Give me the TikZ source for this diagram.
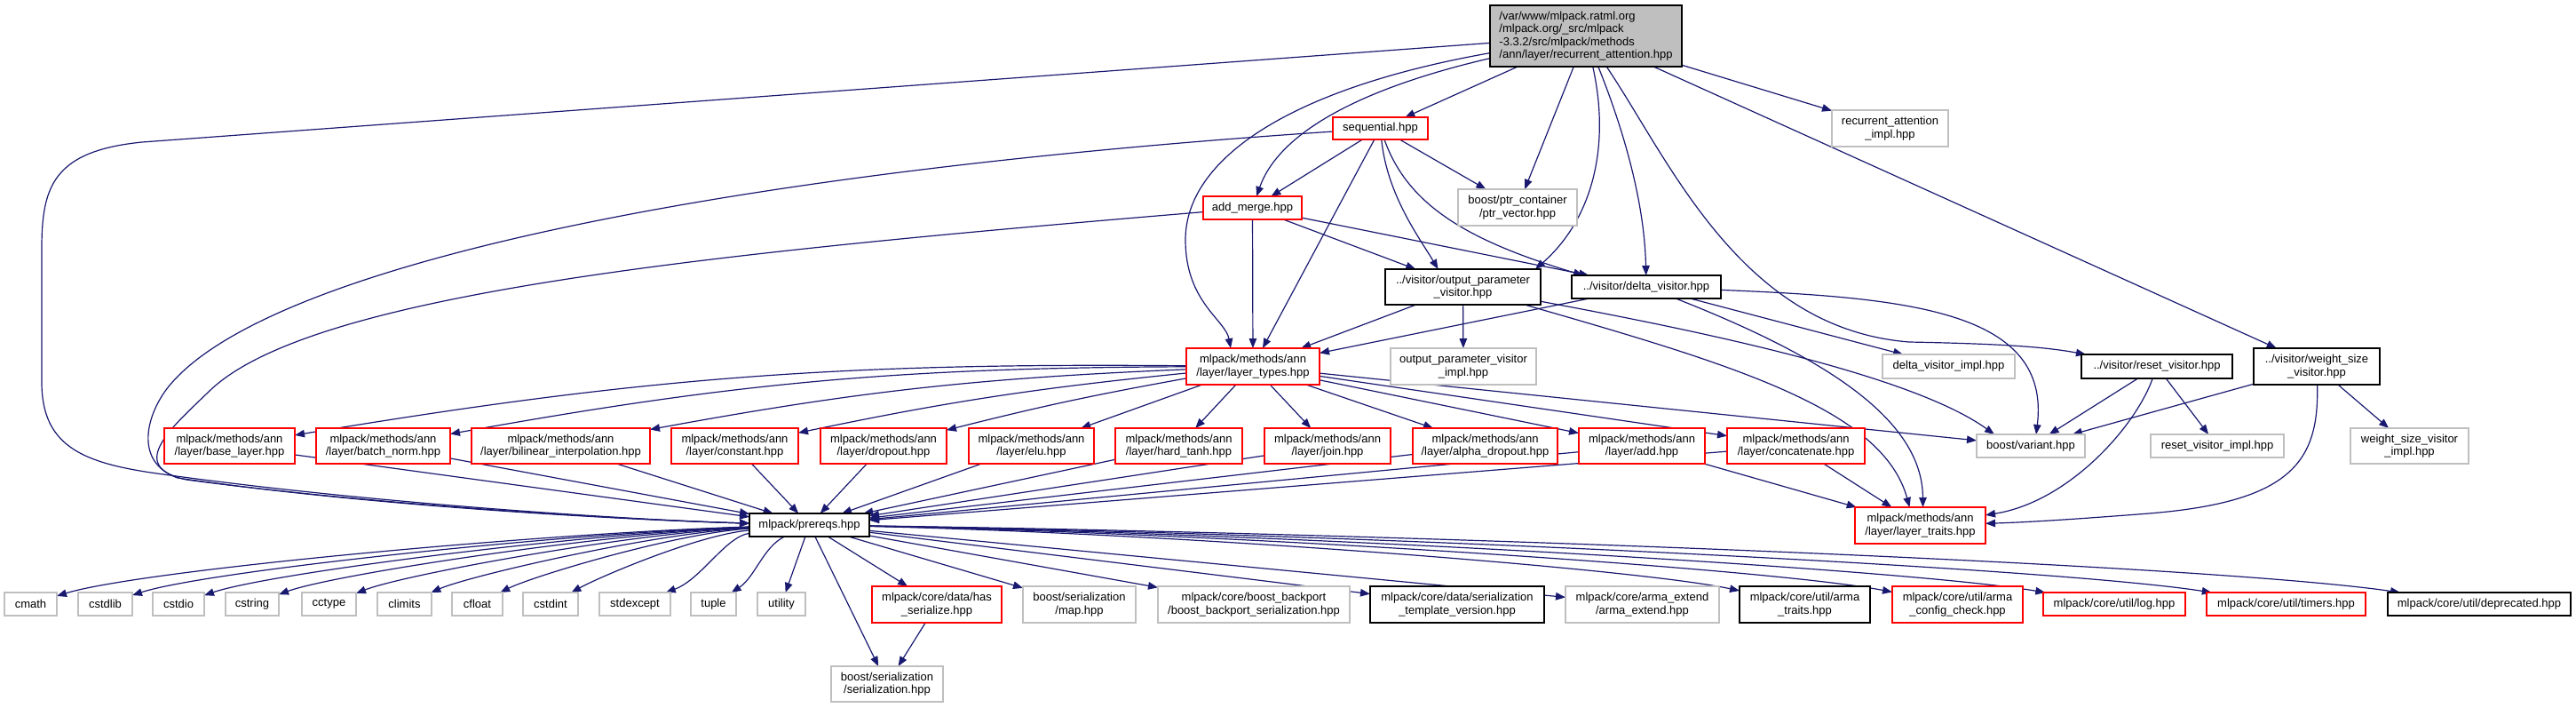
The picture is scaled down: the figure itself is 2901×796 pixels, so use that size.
\documentclass[tikz,border=0pt]{standalone}
\usepackage{fontspec}
\newfontfamily\dfont{Liberation Sans}
\usetikzlibrary{arrows.meta,calc}
\definecolor{edgec}{HTML}{191970}
\definecolor{grey75}{HTML}{BFBFBF}
\pgfdeclarelayer{bg}
\pgfsetlayers{bg,main}
\tikzset{
  box/.style={rectangle, inner sep=0pt, outer sep=0pt, align=center, fill=white, line width=1.2pt, font=\dfont\fontsize{13}{14.5}\selectfont},
  bk/.style={box, draw=black},
  rd/.style={box, draw=red},
  gy/.style={box, draw=grey75},
  rt/.style={box, draw=black, fill=grey75, align=left},
  e/.style={draw=edgec, line width=1.2pt, -{Triangle[length=11pt,width=8.5pt]}},
}
\newcommand\nd[7]{\node[#1, minimum width=#5pt, minimum height=#6pt] (#2) at (#3,#4) {#7};}
\begin{document}
\begin{tikzpicture}[x=1pt,y=-1pt]
\useasboundingbox (0,0) rectangle (2901,796);
% ---- nodes
\nd{rt}{root}{1786}{40.5}{216}{69}{/var/www/mlpack.ratml.org\\/mlpack.org/\_src/mlpack\\-3.3.2/src/mlpack/methods\\/ann/layer/recurrent\_attention.hpp}
\nd{rd}{seq}{1554.5}{144.5}{107}{25}{sequential.hpp}
\nd{gy}{rai}{2128.5}{144.5}{131}{41}{recurrent\_attention\\\_impl.hpp}
\nd{rd}{am}{1410.5}{234}{111}{26}{add\_merge.hpp}
\nd{gy}{ptr}{1709}{233.5}{134}{41}{boost/ptr\_container\\/ptr\_vector.hpp}
\nd{bk}{opv}{1647.5}{323}{175}{40}{../visitor/output\_parameter\\\_visitor.hpp}
\nd{bk}{dv}{1854}{323}{168}{26}{../visitor/delta\_visitor.hpp}
\nd{rd}{lt}{1411}{412.5}{150}{41}{mlpack/methods/ann\\/layer/layer\_types.hpp}
\nd{gy}{opvi}{1648}{412.5}{164}{41}{output\_parameter\_visitor\\\_impl.hpp}
\nd{gy}{dvi}{2194.5}{412.5}{149}{27}{delta\_visitor\_impl.hpp}
\nd{bk}{rv}{2429}{412.5}{170}{27}{../visitor/reset\_visitor.hpp}
\nd{bk}{ws}{2609}{412.5}{142}{41}{../visitor/weight\_size\\\_visitor.hpp}
% layer row
\nd{rd}{base}{258.5}{502}{147}{40}{mlpack/methods/ann\\/layer/base\_layer.hpp}
\nd{rd}{bn}{431.5}{502}{151}{40}{mlpack/methods/ann\\/layer/batch\_norm.hpp}
\nd{rd}{bil}{631.5}{502}{201}{40}{mlpack/methods/ann\\/layer/bilinear\_interpolation.hpp}
\nd{rd}{cst}{827.5}{502}{143}{40}{mlpack/methods/ann\\/layer/constant.hpp}
\nd{rd}{drop}{995}{502}{142}{40}{mlpack/methods/ann\\/layer/dropout.hpp}
\nd{rd}{elu}{1161.5}{502}{141}{40}{mlpack/methods/ann\\/layer/elu.hpp}
\nd{rd}{ht}{1327.5}{502}{143}{40}{mlpack/methods/ann\\/layer/hard\_tanh.hpp}
\nd{rd}{join}{1495}{502}{142}{40}{mlpack/methods/ann\\/layer/join.hpp}
\nd{rd}{ad}{1672.5}{502}{163}{40}{mlpack/methods/ann\\/layer/alpha\_dropout.hpp}
\nd{rd}{add}{1849}{502}{142}{40}{mlpack/methods/ann\\/layer/add.hpp}
\nd{rd}{cat}{2022.5}{502}{155}{40}{mlpack/methods/ann\\/layer/concatenate.hpp}
\nd{gy}{bv}{2287}{502}{122}{26}{boost/variant.hpp}
\nd{gy}{rvi}{2497}{502}{150}{26}{reset\_visitor\_impl.hpp}
\nd{gy}{wsi}{2713.5}{502}{133}{40}{weight\_size\_visitor\\\_impl.hpp}
% prereqs row
\nd{bk}{pre}{911.5}{591}{135}{26}{mlpack/prereqs.hpp}
\nd{rd}{ltr}{2162.5}{591.5}{147}{41}{mlpack/methods/ann\\/layer/layer\_traits.hpp}
% bottom row
\nd{gy}{cmath}{34.5}{680}{59}{26}{cmath}
\nd{gy}{cstdlib}{118.5}{680}{61}{26}{cstdlib}
\nd{gy}{cstdio}{201}{680}{58}{26}{cstdio}
\nd{gy}{cstring}{284}{680}{60}{26}{cstring}
\nd{gy}{cctype}{370.5}{680}{61}{26}{cctype}
\nd{gy}{climits}{455.5}{680}{61}{26}{climits}
\nd{gy}{cfloat}{537.5}{680}{57}{26}{cfloat}
\nd{gy}{cstdint}{620}{680}{62}{26}{cstdint}
\nd{gy}{stdexcept}{715}{680}{80}{26}{stdexcept}
\nd{gy}{tuple}{803.5}{680}{51}{26}{tuple}
\nd{gy}{utility}{880}{680}{54}{26}{utility}
\nd{rd}{has}{1055}{680.5}{146}{41}{mlpack/core/data/has\\\_serialize.hpp}
\nd{gy}{map}{1215.5}{680.5}{127}{41}{boost/serialization\\/map.hpp}
\nd{gy}{bbs}{1412}{680.5}{216}{41}{mlpack/core/boost\_backport\\/boost\_backport\_serialization.hpp}
\nd{bk}{stv}{1641}{680.5}{196}{41}{mlpack/core/data/serialization\\\_template\_version.hpp}
\nd{gy}{ae}{1849.5}{680.5}{173}{41}{mlpack/core/arma\_extend\\/arma\_extend.hpp}
\nd{bk}{atr}{2032.5}{680.5}{147}{41}{mlpack/core/util/arma\\\_traits.hpp}
\nd{rd}{acc}{2204.5}{680.5}{147}{41}{mlpack/core/util/arma\\\_config\_check.hpp}
\nd{rd}{log}{2381}{680}{160}{26}{mlpack/core/util/log.hpp}
\nd{rd}{tim}{2574.5}{680}{179}{26}{mlpack/core/util/timers.hpp}
\nd{bk}{dep}{2792}{680}{206}{26}{mlpack/core/util/deprecated.hpp}
\nd{gy}{ser}{999}{770}{126}{40}{boost/serialization\\/serialization.hpp}
% ---- edges
\begin{pgfonlayer}{bg}
% from root
\draw[e] (root) -- (160,160) .. controls (60,170) and (47,210) .. (47,280) -- (47,430) .. controls (47,500) and (90,520) .. (170,532) .. controls (400,565) and (700,585) .. (pre);
\draw[e] (root) -- (seq);
\draw[e] (root) -- (rai);
\draw[e] (root) -- (ws);
\draw[e] (root) -- (ptr);
\draw[e] (root) .. controls (1830,150) and (1852,230) .. (dv);
\draw[e] (root) .. controls (1815,170) and (1790,250) .. ($(opv.north east)+(-6,0)$);
\draw[e] (root) .. controls (1880,180) and (1960,370) .. (2150,385) .. controls (2250,387) and (2300,390) .. ($(rv.north west)+(5,0)$);
\draw[e] (root) .. controls (1530,100) and (1440,150) .. (am);
\draw[e] (root) .. controls (1450,100) and (1335,180) .. (1335,270) .. controls (1335,340) and (1380,360) .. ($(lt.north)+(-25,0)$);
% from sequential
\draw[e] (seq) -- (am);
\draw[e] (seq) -- (lt);
\draw[e] (seq) -- (ptr);
\draw[e] (seq) .. controls (1562,220) and (1600,270) .. ($(opv.north)+(-28,0)$);
\draw[e] (seq) .. controls (1585,230) and (1650,270) .. ($(dv.north west)+(13,0)$);
\draw[e] (seq) .. controls (800,195) and (300,300) .. (190,435) .. controls (165,466) and (150,520) .. (200,538) .. controls (420,570) and (700,585) .. (pre);
% from add_merge
\draw[e] (am) -- (opv);
\draw[e] (am) -- (dv);
\draw[e] (am) -- (lt);
\draw[e] (am) .. controls (800,285) and (350,330) .. (236,440) .. controls (196,479) and (140,525) .. (210,540) .. controls (420,568) and (700,585) .. (pre);
% visitors
\draw[e] (opv) -- (lt);
\draw[e] (opv) -- (opvi);
\draw[e] (opv) .. controls (1900,370) and (2150,420) .. ($(bv.north west)+(20,0)$);
\draw[e] (opv) .. controls (1950,410) and (2120,460) .. ($(ltr.north)+(-12,0)$);
\draw[e] (dv) -- (lt);
\draw[e] (dv) -- (dvi);
\draw[e] (dv) .. controls (2150,335) and (2310,350) .. ($(bv.north)+(6,0)$);
\draw[e] (dv) .. controls (2050,400) and (2165,470) .. ($(ltr.north)+(3,0)$);
\draw[e] (rv) -- (bv);
\draw[e] (rv) -- (rvi);
\draw[e] (rv) .. controls (2405,480) and (2330,565) .. (ltr);
\draw[e] (ws) -- (bv);
\draw[e] (ws) -- (wsi);
\draw[e] (ws) .. controls (2612,520) and (2580,565) .. (2420,578) .. controls (2330,585) and (2280,588) .. (ltr);
% layer_types
\draw[e] (lt) to[bend right=5] (base);
\draw[e] (lt) to[bend right=5] (bn);
\draw[e] (lt) to[bend right=4] (bil);
\draw[e] (lt) to[bend right=3] (cst);
\draw[e] (lt) to[bend right=2] (drop);
\draw[e] (lt) -- (elu);
\draw[e] (lt) -- (ht);
\draw[e] (lt) -- (join);
\draw[e] (lt) -- (ad);
\draw[e] (lt) -- (add);
\draw[e] (lt) -- (cat);
\draw[e] (lt) -- (bv);
% layers to prereqs
\foreach \n in {base,bn,bil,cst,drop,elu,ht,join,ad,add,cat} {\draw[e] (\n) -- (pre);}
\draw[e] (add) -- (ltr);
\draw[e] (cat) -- (ltr);
% prereqs to bottom
\draw[e] (pre) .. controls (610,600) and (158,642) .. (cmath);
\draw[e] (pre) .. controls (636,600) and (232,643) .. (cstdlib);
\draw[e] (pre) .. controls (660,600) and (304,645) .. (cstdio);
\draw[e] (pre) .. controls (685,600) and (378,646) .. (cstring);
\draw[e] (pre) .. controls (711,600) and (454,647) .. (cctype);
\draw[e] (pre) .. controls (737,600) and (529,648) .. (climits);
\draw[e] (pre) .. controls (761,600) and (599,649) .. (cfloat);
\draw[e] (pre) .. controls (786,602) and (674,650) .. (cstdint);
\draw[e] (pre) .. controls (817,604) and (790,652) .. (stdexcept);
\draw[e] (pre) .. controls (860,615) and (850,650) .. (tuple);
\draw[e] (pre) -- (utility);
\draw[e] (pre) -- (has);
\draw[e] (pre) -- (map);
\draw[e] (pre) -- (bbs);
\draw[e] (pre) -- (stv);
\draw[e] (pre) -- (ae);
\draw[e] (pre) .. controls (1322,600) and (1841,640) .. (atr);
\draw[e] (pre) .. controls (1382,600) and (1993,640) .. (acc);
\draw[e] (pre) .. controls (1442,600) and (2142,640) .. (log);
\draw[e] (pre) .. controls (1506,600) and (2304,638) .. (tim);
\draw[e] (pre) .. controls (1577,600) and (2484,635) .. (dep);
\draw[e] (pre) -- (ser);
\draw[e] (has) -- (ser);
\end{pgfonlayer}
\end{tikzpicture}
\end{document}
